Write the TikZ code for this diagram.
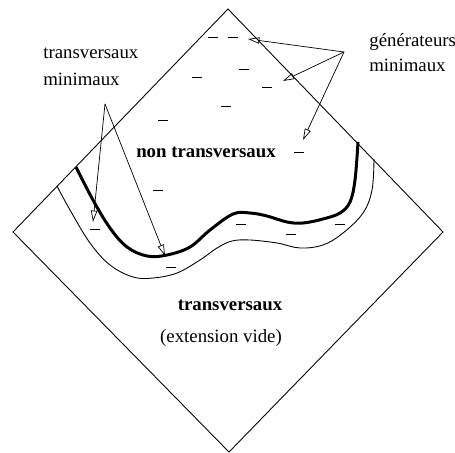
\documentclass[tikz,border=0pt]{standalone}
\usepackage{fontspec}
\setmainfont{Liberation Serif}
\usetikzlibrary{arrows.meta}

\begin{document}
\begin{tikzpicture}[x=0.02cm, y=-0.02cm,
    every node/.style={inner sep=0pt, font=\fontsize{10.7}{13}\selectfont},
    pointer/.style={line width=0.4pt, -{Triangle[open, length=6.5pt, width=3.6pt]}},
    gap/.style={line width=0.5pt}]
                \useasboundingbox (0,0) rectangle (455,452);
                % the lattice
                \draw[line width=0.5pt] (228,9) -- (443,232) -- (229,452) -- (13,232) -- cycle;
                % border of the non transversal part
                \draw[line width=1.7pt] plot[smooth, tension=0.6] coordinates {(76,167) (93,200) (110,228) (127,247) (147,256) (167,255) (190,247) (210,230) (233,214) (250,213) (267,216) (287,222) (303,223) (323,219) (340,213) (350,202) (355,180) (358,142)};
                \draw[line width=0.5pt] plot[smooth, tension=0.6] coordinates {(57,186) (70,210) (90,243) (110,265) (133,277) (153,278) (177,273) (200,260) (217,248) (232,241) (250,240) (277,243) (300,248) (323,245) (343,233) (363,213) (372,190) (374,159)};
                % dashes
                \foreach \x/\y in {213/37, 233/37, 244/69, 197/77, 267/87, 226/106,
                    163/120, 299/152, 158/190, 95/229, 171/267, 241/224, 291/234, 340/224}
                    \draw[gap] (\x-5,\y) -- (\x+5,\y);
                % labels
                \node[anchor=west, align=left] (tm) at (43,66.5) {transversaux\\[2.3pt]minimaux};
                \node[anchor=west, align=left] (gm) at (369,52.5) {générateurs\\[1.2pt]minimaux};
                \node[font=\fontsize{10.7}{13}\selectfont\bfseries] (nt) at (206,152) {non transversaux};
                \node[font=\fontsize{10.7}{13}\selectfont\bfseries] (tr) at (230,305) {transversaux};
                \node (ev) at (221,338) {(extension vide)};
                % pointers
                \coordinate (tmsrc) at (105,104);
                \coordinate (gmsrc) at (344,52);
                \coordinate (tm1) at (93,222);
                \coordinate (tm2) at (165,256);
                \coordinate (gm1) at (248,39);
                \coordinate (gm2) at (283,81);
                \coordinate (gm3) at (303,140);
                \draw [pointer] (tmsrc) -- (tm1);
                \draw [pointer] (tmsrc) -- (tm2);
                \draw [pointer] (gmsrc) -- (gm1);
                \draw [pointer] (gmsrc) -- (gm2);
                \draw [pointer] (gmsrc) -- (gm3);
            \end{tikzpicture}
\end{document}
